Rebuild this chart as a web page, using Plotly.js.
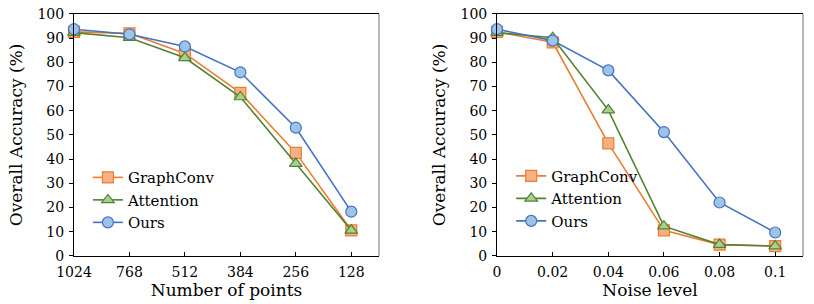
<!DOCTYPE html>
<html>
<head>
<meta charset="utf-8">
<script src="https://cdn.plot.ly/plotly-3.0.1.min.js"></script>
<style>html,body{margin:0;padding:0;background:#fff;}#chart{width:814px;height:304px;}</style>
</head>
<body>
<div id="chart"></div>
<script>
// Left panel: number of points
const pointLabels = ["1024", "768", "512", "384", "256", "128"];
const pointGraphConv = [92.6, 92.0, 83.7, 67.4, 42.6, 10.6];
const pointAttention = [92.3, 90.2, 81.9, 65.7, 38.2, 10.6];
const pointOurs = [93.7, 91.6, 86.6, 75.9, 53.0, 18.3];

// Right panel: noise level
const noiseLabels = ["0", "0.02", "0.04", "0.06", "0.08", "0.1"];
const noiseGraphConv = [92.6, 88.3, 46.5, 10.6, 4.7, 4.1];
const noiseAttention = [92.3, 90.2, 60.3, 12.3, 4.7, 4.1];
const noiseOurs = [93.7, 89.0, 76.7, 51.2, 22.1, 9.7];

const seriesNames = ["GraphConv", "Attention", "Ours"];
const idx = pointLabels.map((_, i) => i);

const styles = [
  {line: "#ED7D31", fill: "#F4B183", symbol: "square"},
  {line: "#548235", fill: "#A9D18E", symbol: "triangle-up"},
  {line: "#4472C4", fill: "#9DC3E6", symbol: "circle"}
];

function mk(y, s, name, xa, ya, legend) {
  const st = styles[s];
  return {
    x: idx, y: y, name: name, type: "scatter", mode: "lines+markers",
    xaxis: xa, yaxis: ya, legend: legend, cliponaxis: false,
    line: {color: st.line, width: 1.6},
    marker: {symbol: st.symbol, size: 11, color: st.fill,
             line: {color: st.line, width: 1.2}}
  };
}

const data = [
  mk(pointGraphConv, 0, seriesNames[0], "x", "y", "legend"),
  mk(pointAttention, 1, seriesNames[1], "x", "y", "legend"),
  mk(pointOurs, 2, seriesNames[2], "x", "y", "legend"),
  mk(noiseGraphConv, 0, seriesNames[0], "x2", "y2", "legend2"),
  mk(noiseAttention, 1, seriesNames[1], "x2", "y2", "legend2"),
  mk(noiseOurs, 2, seriesNames[2], "x2", "y2", "legend2")
];

const FAM = "DejaVu Serif";
const font = {family: FAM, color: "#000"};
const tickFont = {family: FAM, size: 14, color: "#000"};
const titleFont = {family: FAM, size: 17, color: "#000"};
const legendFont = {family: FAM, size: 15, color: "#000"};

function xax(domain, labels, title) {
  return {
    domain: domain, range: [0, 5.5], tickvals: idx, ticktext: labels,
    ticks: "inside", ticklen: 4, tickcolor: "#000", tickwidth: 1,
    showline: true, linecolor: "#000", linewidth: 1, mirror: true,
    showgrid: false, zeroline: false, fixedrange: true,
    tickfont: tickFont, ticklabelstandoff: 3,
    title: {text: title, font: titleFont, standoff: 0}
  };
}
function yax(anchor) {
  return {
    anchor: anchor, domain: [0.158, 0.954], range: [0, 100], dtick: 10,
    ticks: "outside", ticklen: 4, tickcolor: "#000", tickwidth: 1,
    showline: true, linecolor: "#000", linewidth: 1,
    showgrid: false, zeroline: false, fixedrange: true,
    tickfont: tickFont, ticklabelstandoff: 2,
    title: {text: "Overall Accuracy (%)", font: titleFont, standoff: 10}
  };
}

const layout = {
  width: 814, height: 304,
  margin: {l: 0, r: 0, t: 0, b: 0},
  paper_bgcolor: "#fff", plot_bgcolor: "#fff",
  font: font, showlegend: true,
  xaxis: Object.assign(xax([0.0909, 0.4656], pointLabels, "Number of points"), {anchor: "y"}),
  yaxis: yax("x"),
  xaxis2: Object.assign(xax([0.6106, 0.9865], noiseLabels, "Noise level"), {anchor: "y2"}),
  yaxis2: yax("x2"),
  legend: {x: 0.108, y: 0.47, xanchor: "left", yanchor: "top", bgcolor: "rgba(0,0,0,0)",
           font: legendFont, itemwidth: 30, tracegroupgap: 0},
  legend2: {x: 0.628, y: 0.475, xanchor: "left", yanchor: "top", bgcolor: "rgba(0,0,0,0)",
           font: legendFont, itemwidth: 30, tracegroupgap: 0},
  shapes: [
    {type: "line", xref: "paper", yref: "paper", x0: 0.4656, x1: 0.4656, y0: 0.158, y1: 0.954, line: {color: "#888", width: 1.2}},
    {type: "line", xref: "paper", yref: "paper", x0: 0.9865, x1: 0.9865, y0: 0.158, y1: 0.954, line: {color: "#888", width: 1.2}}
  ]
};

Plotly.newPlot("chart", data, layout, {displayModeBar: false, staticPlot: true});
</script>
</body>
</html>
